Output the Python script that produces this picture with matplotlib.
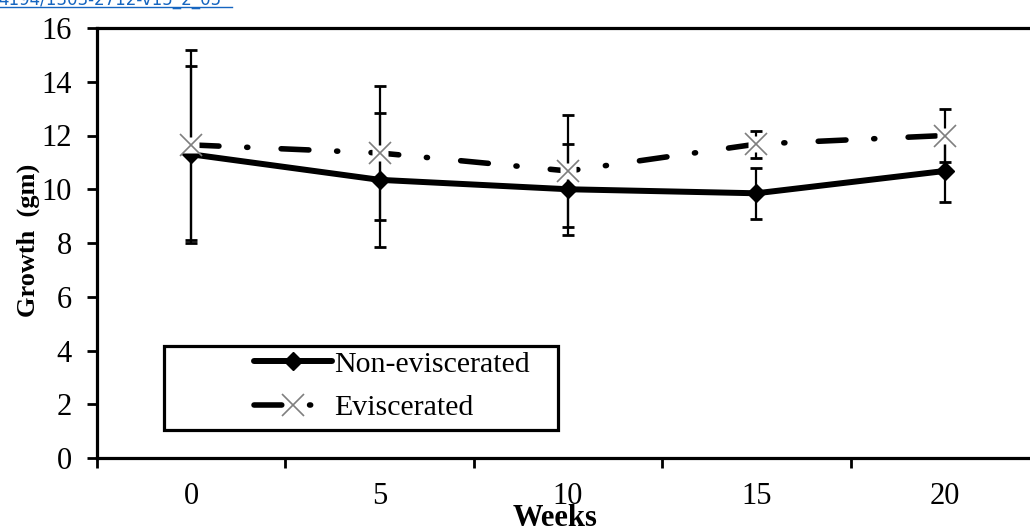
import matplotlib
matplotlib.use('Agg')
import matplotlib.pyplot as plt
from matplotlib.patches import Rectangle
from matplotlib.lines import Line2D
import numpy as np

# data
weeks = ['0', '5', '10', '15', '20']
non_evisc = [11.3, 10.35, 10.0, 9.85, 10.68]
non_evisc_err = [3.3, 2.5, 1.7, 0.95, 1.15]
evisc = [11.65, 11.35, 10.68, 11.68, 12.0]
evisc_err = [3.55, 2.5, 2.07, 0.5, 1.0]
y_ticks = [0, 2, 4, 6, 8, 10, 12, 14, 16]

W, H = 1030, 531
plt.rcParams['font.family'] = ['Liberation Serif', 'DejaVu Serif']
fig = plt.figure(figsize=(W / 100, H / 100), dpi=100)

# axes in pixel terms: left spine x=97, bottom y=458, top y=28, 5 categories of ~188 px
ax = fig.add_axes([97 / W, 1 - 458 / H, 942 / W, 430 / H])
x = np.arange(len(weeks))

# error bars
ax.errorbar(x, non_evisc, yerr=non_evisc_err, fmt='none', ecolor='black',
            elinewidth=1.6, capsize=4.5, capthick=2, zorder=2)
ax.errorbar(x, evisc, yerr=evisc_err, fmt='none', ecolor='black',
            elinewidth=1.6, capsize=4.5, capthick=2, zorder=2)

# lines
dash_pat = (5, 5.0, 0.2, 6.0)
ax.plot(x, non_evisc, color='black', lw=4.3, solid_capstyle='round',
        marker='D', ms=9, zorder=3)
ax.plot(x, evisc, color='black', lw=4.0, dashes=dash_pat,
        dash_capstyle='round', zorder=3)
# white backing behind the x markers, then the markers
ax.plot(x, evisc, linestyle='none', marker='s', ms=12, mfc='white',
        mec='none', zorder=4)
ax.plot(x, evisc, linestyle='none', marker='x', ms=16, mec='#7f7f7f',
        mew=1.2, zorder=5)

ax.set_xlim(-0.5, len(weeks) - 0.5)
ax.set_ylim(0, 16)
ax.set_yticks(y_ticks)
ax.set_xticks(x)
ax.set_xticklabels(weeks)
ax.set_xticks(np.arange(-0.5, len(weeks)), minor=True)
ax.tick_params(axis='x', which='major', length=0, labelsize=22, pad=17)
ax.tick_params(axis='x', which='minor', direction='out', length=7, width=2)
ax.tick_params(axis='y', direction='out', length=7, width=2, labelsize=22, pad=11)
for sp in ax.spines.values():
    sp.set_linewidth(2.3)

# legend
h1 = Line2D([], [], color='black', lw=4.3, marker='D', ms=9,
            solid_capstyle='round')
h2 = Line2D([], [], color='black', lw=4.0, dashes=dash_pat,
            dash_capstyle='round', marker='x', ms=16, mec='#7f7f7f', mew=1.2)
fig.legend([h1, h2], ['Non-eviscerated', 'Eviscerated'], loc='center',
           bbox_to_anchor=(392 / W, 1 - 386 / H), frameon=False, fontsize=21.5,
           handlelength=2.6, handletextpad=0.1, labelspacing=0.55, numpoints=1)
fig.patches.append(Rectangle((164 / W, 1 - 430 / H), 394 / W, 84 / H,
                             transform=fig.transFigure, fill=False,
                             edgecolor='black', lw=2.3))

# axis titles
fig.text(28 / W, 1 - 240 / H, 'Growth  (gm)', rotation=90, ha='center',
         va='center', fontsize=19, fontweight='bold')
fig.text(555 / W, 1 - 518 / H, 'Weeks', ha='center', va='center',
         fontsize=22, fontweight='bold')

# cut-off link text at the very top
fig.text(-2 / W, 1 - 5 / H, '4194/1303-2712-v15_2_05', color='#1565c0',
         fontsize=12, family='DejaVu Sans', va='baseline')
fig.add_artist(Line2D([0, 232 / W], [1 - 7 / H, 1 - 7 / H],
                      transform=fig.transFigure, color='#1565c0', lw=1))

fig.savefig('out.png', dpi=100)
